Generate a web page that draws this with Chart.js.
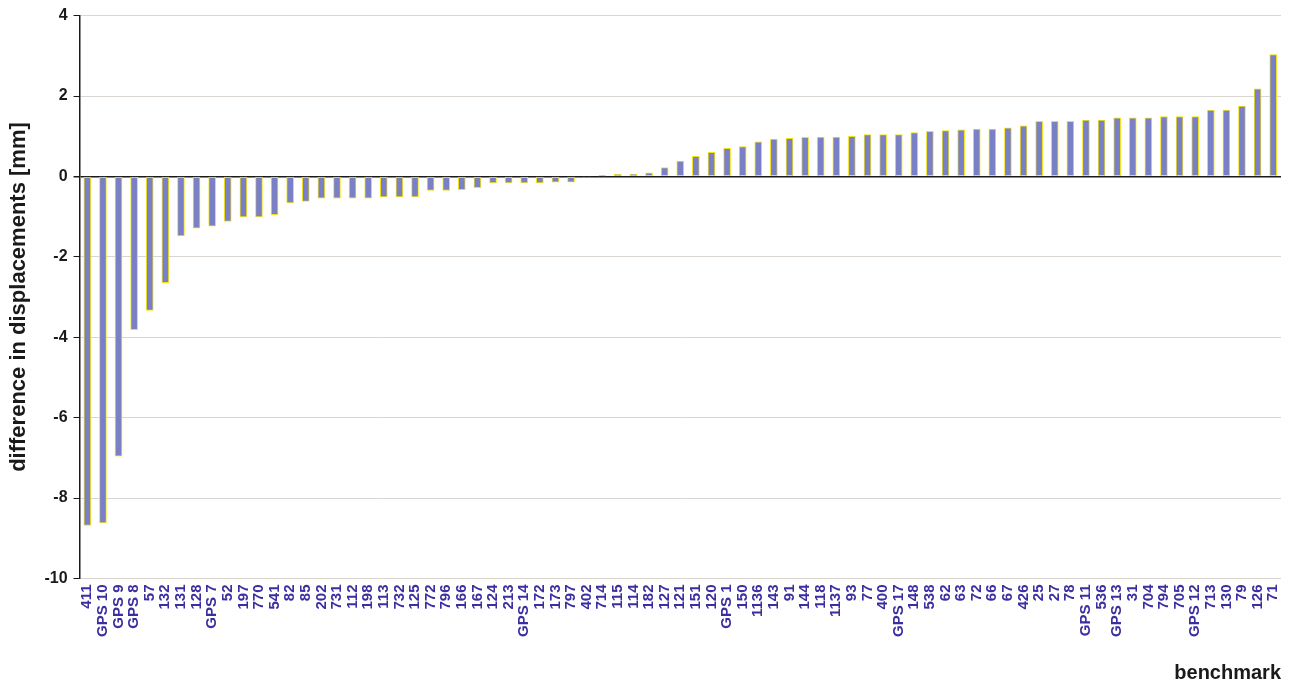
<!DOCTYPE html>
<html lang="en">
<head>
    <meta charset="UTF-8">
    <title>difference in displacements per benchmark</title>
    <script src="https://cdn.jsdelivr.net/npm/chart.js"></script>
    <style>
        body {
            margin: 0;
            background: #ffffff;
        }
        .chart-container {
            width: 1299px;
            height: 685px;
        }
    </style>
</head>
<body>
    <div class="chart-container">
        <canvas id="diffChart"></canvas>
    </div>

    <script>
        const benchmarks = ['411', 'GPS 10', 'GPS 9', 'GPS 8', '57', '132', '131', '128', 'GPS 7', '52',
            '197', '770', '541', '82', '85', '202', '731', '112', '198', '113',
            '732', '125', '772', '796', '166', '167', '124', '213', 'GPS 14', '172',
            '173', '797', '402', '714', '115', '114', '182', '127', '121', '151',
            '120', 'GPS 1', '150', '1136', '143', '91', '144', '118', '1137', '93',
            '77', '400', 'GPS 17', '148', '538', '62', '63', '72', '66', '67',
            '426', '25', '27', '78', 'GPS 11', '536', 'GPS 13', '31', '704', '794',
            '705', 'GPS 12', '713', '130', '79', '126', '71'];

        const differences = [-8.68, -8.62, -6.96, -3.81, -3.33, -2.64, -1.48, -1.29, -1.24, -1.12,
            -1.01, -1.01, -0.95, -0.66, -0.62, -0.54, -0.54, -0.54, -0.54, -0.51,
            -0.51, -0.51, -0.35, -0.35, -0.33, -0.28, -0.16, -0.16, -0.16, -0.16,
            -0.14, -0.14, -0.02, 0.01, 0.05, 0.06, 0.09, 0.22, 0.38, 0.5,
            0.6, 0.7, 0.74, 0.86, 0.93, 0.95, 0.97, 0.98, 0.98, 1.0,
            1.04, 1.04, 1.04, 1.09, 1.12, 1.14, 1.16, 1.18, 1.18, 1.21,
            1.26, 1.37, 1.37, 1.37, 1.4, 1.4, 1.46, 1.46, 1.46, 1.49,
            1.49, 1.49, 1.65, 1.65, 1.75, 2.18, 3.03];

        const yTicks = [4, 2, 0, -2, -4, -6, -8, -10];

        const fontFamily = '"Liberation Sans", Arial, sans-serif';

        const ctx = document.getElementById('diffChart').getContext('2d');
        const chart = new Chart(ctx, {
            type: 'bar',
            data: {
                labels: benchmarks,
                datasets: [{
                    label: 'difference in displacements',
                    data: differences,
                    backgroundColor: '#7a80c6',
                    borderColor: '#f2e21c',
                    borderWidth: 1,
                    borderSkipped: false,
                    barThickness: 7
                }]
            },
            options: {
                responsive: true,
                maintainAspectRatio: false,
                animation: false,
                layout: {
                    padding: { left: 6, right: 18, top: 9, bottom: 0 }
                },
                plugins: {
                    legend: { display: false },
                    tooltip: { enabled: true }
                },
                scales: {
                    x: {
                        grid: { display: false, drawTicks: false },
                        border: { display: false },
                        ticks: {
                            autoSkip: false,
                            maxRotation: 90,
                            minRotation: 90,
                            padding: 6,
                            color: '#3a2ea0',
                            font: { family: fontFamily, size: 15, weight: 'bold' }
                        },
                        title: {
                            display: true,
                            text: 'benchmark',
                            align: 'end',
                            color: '#1a1a1a',
                            padding: { top: 18, bottom: 0 },
                            font: { family: fontFamily, size: 20, weight: 'bold' }
                        }
                    },
                    y: {
                        min: -10,
                        max: 4,
                        afterBuildTicks: function(axis) {
                            axis.ticks = yTicks.map(v => ({ value: v }));
                        },
                        grid: {
                            color: function(c) {
                                return c.tick && c.tick.value === 0 ? '#1a1a1a' : '#dad5d1';
                            },
                            lineWidth: function(c) {
                                return c.tick && c.tick.value === 0 ? 1.5 : 1;
                            },
                            tickColor: '#1a1a1a',
                            tickLength: 6
                        },
                        border: { display: true, color: '#1a1a1a', width: 1.5 },
                        ticks: {
                            padding: 6,
                            color: '#1a1a1a',
                            font: { family: fontFamily, size: 16, weight: 'bold' }
                        },
                        title: {
                            display: true,
                            text: 'difference in displacements [mm]',
                            color: '#1a1a1a',
                            padding: { top: 0, bottom: 6 },
                            font: { family: fontFamily, size: 22, weight: 'bold' }
                        }
                    }
                }
            }
        });
    </script>
</body>
</html>
